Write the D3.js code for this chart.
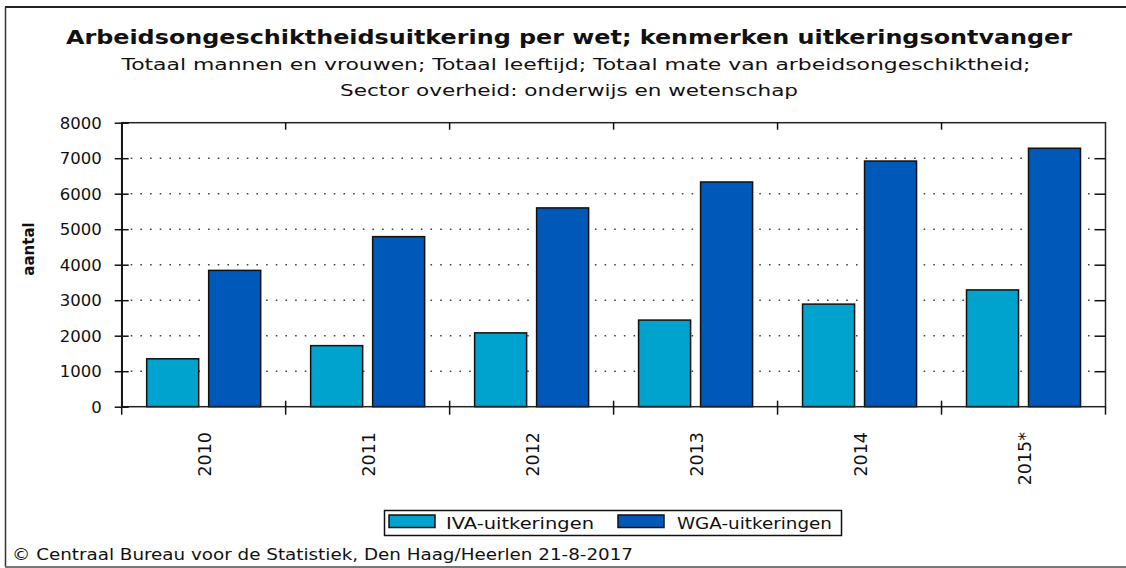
<!DOCTYPE html>
<meta charset="utf-8">
<title>Arbeidsongeschiktheidsuitkering per wet</title>
<script src="https://d3js.org/d3.v7.min.js"></script>
<style>
  body { margin: 0; background: #fff; }
  text { font-family: "DejaVu Sans", Verdana, sans-serif; fill: #111; }
  text.title { font-weight: bold; font-size: 19.5px; }
  text.subtitle { font-size: 16px; }
  .axis text { font-size: 16.5px; }
  .axis path, .axis line { stroke: #111; stroke-width: 1.5px; }
  .grid { stroke: #444; stroke-width: 1.6px; stroke-dasharray: 1.6,8.07; }
</style>
<div id="chart"></div>
<script>

// data
var years = ["2010", "2011", "2012", "2013", "2014", "2015*"];
var seriesNames = ["IVA-uitkeringen", "WGA-uitkeringen"];
var iva = [1350, 1720, 2080, 2440, 2890, 3290];
var wga = [3840, 4790, 5600, 6330, 6920, 7280];
var yTicks = [0, 1000, 2000, 3000, 4000, 5000, 6000, 7000, 8000];
var colors = ["#00a3cd", "#0058b8"];

var W = 1126, H = 568;
var pLeft = 121.7, pRight = 1105.5, pTop = 122.7, pBottom = 406.7;

var svg = d3.select("#chart").append("svg")
    .attr("width", W)
    .attr("height", H);

// outer frame (only top, left, bottom are visible in the picture)
svg.append("line").attr("x1", 5).attr("x2", W).attr("y1", 7).attr("y2", 7)
    .attr("stroke", "#222").attr("stroke-width", 2);
svg.append("line").attr("x1", 5.5).attr("x2", 5.5).attr("y1", 7).attr("y2", 567)
    .attr("stroke", "#333").attr("stroke-width", 1.5);
svg.append("line").attr("x1", 5).attr("x2", W).attr("y1", 567).attr("y2", 567)
    .attr("stroke", "#777").attr("stroke-width", 2);

// titles
svg.append("text").attr("class", "title")
    .attr("x", 66).attr("y", 44)
    .attr("textLength", 1006).attr("lengthAdjust", "spacingAndGlyphs")
    .text("Arbeidsongeschiktheidsuitkering per wet; kenmerken uitkeringsontvanger");
svg.append("text").attr("class", "subtitle")
    .attr("x", 121.5).attr("y", 70)
    .attr("textLength", 909).attr("lengthAdjust", "spacingAndGlyphs")
    .text("Totaal mannen en vrouwen; Totaal leeftijd; Totaal mate van arbeidsongeschiktheid;");
svg.append("text").attr("class", "subtitle")
    .attr("x", 340).attr("y", 96)
    .attr("textLength", 458).attr("lengthAdjust", "spacingAndGlyphs")
    .text("Sector overheid: onderwijs en wetenschap");

// scales
var x = d3.scaleBand().domain(years).range([pLeft, pRight]);
var xSub = d3.scaleBand().domain(seriesNames).range([0, x.bandwidth()])
    .paddingInner(0.161).paddingOuter(0.403);
var y = d3.scaleLinear().domain([0, 8000]).range([pBottom, pTop]);
var color = d3.scaleOrdinal().domain(seriesNames).range(colors);

// dotted gridlines
svg.append("g").selectAll("line")
    .data(yTicks.filter(function(d) { return d > 0 && d < 8000; }))
    .enter().append("line")
    .attr("class", "grid")
    .attr("x1", pLeft + 9).attr("x2", pRight - 11)
    .attr("y1", function(d) { return y(d); })
    .attr("y2", function(d) { return y(d); });

// bars
var rows = years.map(function(yr, i) { return {year: yr, values: [iva[i], wga[i]]}; });
svg.append("g").selectAll("g")
    .data(rows)
    .enter().append("g")
    .attr("transform", function(d) { return "translate(" + x(d.year) + ",0)"; })
    .selectAll("rect")
    .data(function(d) { return seriesNames.map(function(k, j) { return {key: k, value: d.values[j]}; }); })
    .enter().append("rect")
    .attr("x", function(d) { return xSub(d.key); })
    .attr("y", function(d) { return y(d.value); })
    .attr("width", xSub.bandwidth())
    .attr("height", function(d) { return pBottom - y(d.value); })
    .attr("fill", function(d) { return color(d.key); })
    .attr("stroke", "#111")
    .attr("stroke-width", 1.5);

// plot frame
svg.append("rect")
    .attr("x", pLeft).attr("y", pTop)
    .attr("width", pRight - pLeft).attr("height", pBottom - pTop)
    .attr("fill", "none").attr("stroke", "#222").attr("stroke-width", 1.5);

// left axis, ticks crossing the axis
var yAxis = svg.append("g").attr("class", "axis")
    .attr("transform", "translate(" + pLeft + ",0)")
    .call(d3.axisLeft(y).tickValues(yTicks).tickFormat(d3.format("d"))
        .tickSizeInner(7).tickSizeOuter(0).tickPadding(13));
yAxis.selectAll(".tick line").attr("x1", 7);
yAxis.selectAll(".tick text").attr("dy", "0.35em");

// right axis ticks, inward
svg.append("g").attr("class", "axis")
    .attr("transform", "translate(" + pRight + ",0)")
    .call(d3.axisRight(y).tickValues(yTicks.slice(1, -1)).tickSizeInner(-11).tickSizeOuter(0).tickFormat(""))
    .select(".domain").remove();

// category boundary ticks on bottom and top
var bounds = years.map(function(d) { return x(d); }).concat([pRight]);
svg.append("g").selectAll("line")
    .data(bounds)
    .enter().append("line")
    .attr("x1", function(d) { return d; }).attr("x2", function(d) { return d; })
    .attr("y1", function(d, i) { return (i == 0 || i == bounds.length - 1) ? pBottom : pBottom - 6; })
    .attr("y2", pBottom + 8)
    .attr("stroke", "#111").attr("stroke-width", 1.5);
svg.append("g").selectAll("line")
    .data(bounds.slice(1, -1))
    .enter().append("line")
    .attr("x1", function(d) { return d; }).attr("x2", function(d) { return d; })
    .attr("y1", pTop).attr("y2", pTop + 7)
    .attr("stroke", "#111").attr("stroke-width", 1.5);

// year labels, rotated
svg.append("g").attr("class", "axis").selectAll("text")
    .data(years)
    .enter().append("text")
    .attr("transform", function(d) { return "translate(" + (x(d) + x.bandwidth() / 2 + 1) + ",432) rotate(-90)"; })
    .attr("text-anchor", "end")
    .attr("dy", "0.35em")
    .style("font-size", "17.5px")
    .text(function(d) { return d; });

// y axis title
svg.append("text")
    .attr("transform", "translate(29,249) rotate(-90)")
    .attr("text-anchor", "middle")
    .attr("dy", "0.35em")
    .style("font-weight", "bold")
    .style("font-size", "15px")
    .text("aantal");

// legend
var legend = svg.append("g");
legend.append("rect")
    .attr("x", 384.5).attr("y", 510.5).attr("width", 457).attr("height", 25)
    .attr("fill", "#fff").attr("stroke", "#111").attr("stroke-width", 1.5);
var legendX = [389, 618];
var legendTextW = [148, 155];
var item = legend.selectAll("g.item")
    .data(seriesNames)
    .enter().append("g")
    .attr("class", "item")
    .attr("transform", function(d, i) { return "translate(" + legendX[i] + ",0)"; });
item.append("rect")
    .attr("x", 0).attr("y", 515).attr("width", 46).attr("height", 12.5)
    .attr("fill", function(d) { return color(d); })
    .attr("stroke", "#111").attr("stroke-width", 1.5);
item.append("text")
    .attr("x", function(d, i) { return i == 0 ? 57 : 59; }).attr("y", 528.5)
    .style("font-size", "16.5px")
    .attr("textLength", function(d, i) { return legendTextW[i]; })
    .attr("lengthAdjust", "spacingAndGlyphs")
    .text(function(d) { return d; });

// source line
svg.append("text")
    .attr("x", 12).attr("y", 560)
    .style("font-size", "16px")
    .attr("textLength", 621).attr("lengthAdjust", "spacingAndGlyphs")
    .text("\u00a9 Centraal Bureau voor de Statistiek, Den Haag/Heerlen 21-8-2017");

</script>
